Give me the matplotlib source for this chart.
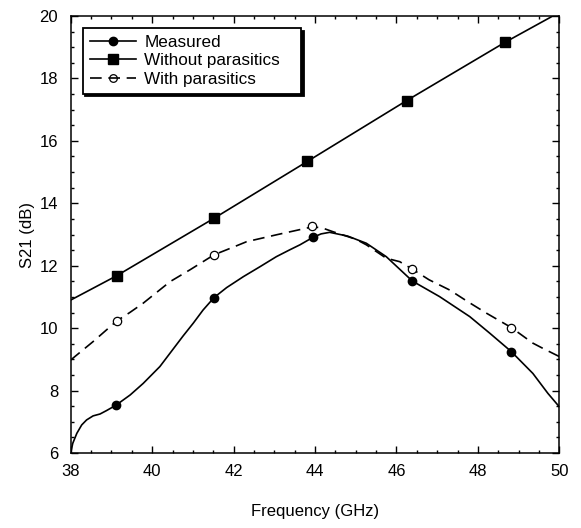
import numpy as np
import matplotlib
matplotlib.use("Agg")
import matplotlib.pyplot as plt
from matplotlib.lines import Line2D

plt.rcParams['font.family'] = ['Liberation Sans', 'DejaVu Sans']

# measured curve
meas_f = [38.0, 38.05, 38.15, 38.27, 38.39, 38.55, 38.72, 38.88, 39.11, 39.46,
          39.78, 40.19, 40.44, 40.76, 41.01, 41.25, 41.52, 41.83, 42.24, 42.65,
          43.05, 43.38, 43.63, 43.95, 44.15, 44.36, 44.8, 45.26, 45.75, 46.39,
          47.06, 47.8, 48.29, 48.82, 49.35, 49.72, 50.0]
meas_s21 = [6.0, 6.31, 6.63, 6.9, 7.06, 7.19, 7.25, 7.36, 7.53, 7.86,
            8.23, 8.77, 9.2, 9.75, 10.16, 10.58, 10.98, 11.3, 11.65, 11.97,
            12.29, 12.51, 12.67, 12.91, 13.02, 13.07, 12.95, 12.72, 12.29, 11.51,
            11.01, 10.37, 9.84, 9.25, 8.55, 7.91, 7.48]
meas_mk_f = [39.11, 41.52, 43.95, 46.39, 48.82]
meas_mk_s21 = [7.53, 10.98, 12.91, 11.51, 9.25]

# model without parasitics
nopar_f = [38.0, 39.13, 41.52, 43.81, 46.25, 48.67, 49.84, 50.0]
nopar_s21 = [10.9, 11.68, 13.52, 15.34, 17.29, 19.16, 20.0, 20.12]
nopar_mk_f = [39.13, 41.52, 43.81, 46.25, 48.67]
nopar_mk_s21 = [11.68, 13.52, 15.34, 17.29, 19.16]

# model with parasitics
par_f = [38.0, 38.27, 38.55, 39.13, 39.45, 39.78, 40.44, 40.93, 41.52, 42.0,
         42.32, 43.05, 43.5, 43.95, 44.2, 44.44, 45.0, 45.26, 45.75, 46.08,
         46.39, 46.8, 47.31, 47.75, 48.21, 48.82, 49.35, 49.6, 50.0]
par_s21 = [8.98, 9.27, 9.57, 10.23, 10.5, 10.8, 11.49, 11.87, 12.35, 12.6,
           12.77, 12.99, 13.12, 13.25, 13.2, 13.09, 12.85, 12.67, 12.24, 12.13,
           11.89, 11.55, 11.22, 10.85, 10.48, 10.02, 9.52, 9.35, 9.09]
par_mk_f = [39.13, 41.52, 43.93, 46.39, 48.82]
par_mk_s21 = [10.23, 12.35, 13.28, 11.89, 10.02]

fig = plt.figure(figsize=(5.81, 5.28), dpi=100)
ax = fig.add_axes([0.1217, 0.142, 0.8410, 0.8277])

lw = 1.2
dash = (7, 4)

ax.plot(meas_f, meas_s21, color='k', lw=lw)
ax.plot(meas_mk_f, meas_mk_s21, 'o', color='k', ms=6, ls='none')

ax.plot(nopar_f, nopar_s21, color='k', lw=lw)
ax.plot(nopar_mk_f, nopar_mk_s21, 's', color='k', ms=6.5, ls='none')

ax.plot(par_f, par_s21, color='k', lw=lw, dashes=dash)
ax.plot(par_mk_f, par_mk_s21, 'o', mfc='white', mec='k', mew=0.9, ms=6, ls='none')

ax.set_xlim(38, 50)
ax.set_ylim(6, 20)
ax.set_xticks(np.arange(38, 51, 2))
ax.set_yticks(np.arange(6, 21, 2))
ax.set_xticks(np.arange(38, 50.01, 0.5), minor=True)
ax.set_yticks(np.arange(6, 20.01, 0.5), minor=True)
ax.tick_params(which='both', direction='in', top=True, right=True, width=1.0,
               labelsize=12, colors='k')
ax.tick_params(which='major', length=5)
ax.tick_params(which='minor', length=2.5)
ax.tick_params(axis='x', pad=8)
ax.tick_params(axis='y', pad=9)
for s in ax.spines.values():
    s.set_linewidth(1.1)

ax.set_xlabel('Frequency (GHz)', fontsize=12, labelpad=18)
ax.set_ylabel('S21 (dB)', fontsize=12, labelpad=3)

handles = [
    Line2D([], [], color='k', lw=lw, marker='o', ms=6),
    Line2D([], [], color='k', lw=lw, marker='s', ms=6.5),
    Line2D([], [], color='k', lw=lw, dashes=dash, marker='o', mfc='none', mec='k', mew=0.9, ms=5.5),
]
labels = ['Measured', 'Without parasitics   ', 'With parasitics']
leg = ax.legend(handles, labels, loc='upper left', bbox_to_anchor=(0.0245, 0.9725),
                fontsize=12.3, frameon=True, fancybox=False, edgecolor='k',
                framealpha=1, handlelength=2.75, handletextpad=0.45,
                labelspacing=0.2, borderpad=0.4, borderaxespad=0,
                shadow={'color': 'k', 'alpha': 1})
leg.get_frame().set_linewidth(1.3)

fig.savefig('out.png', dpi=100)
